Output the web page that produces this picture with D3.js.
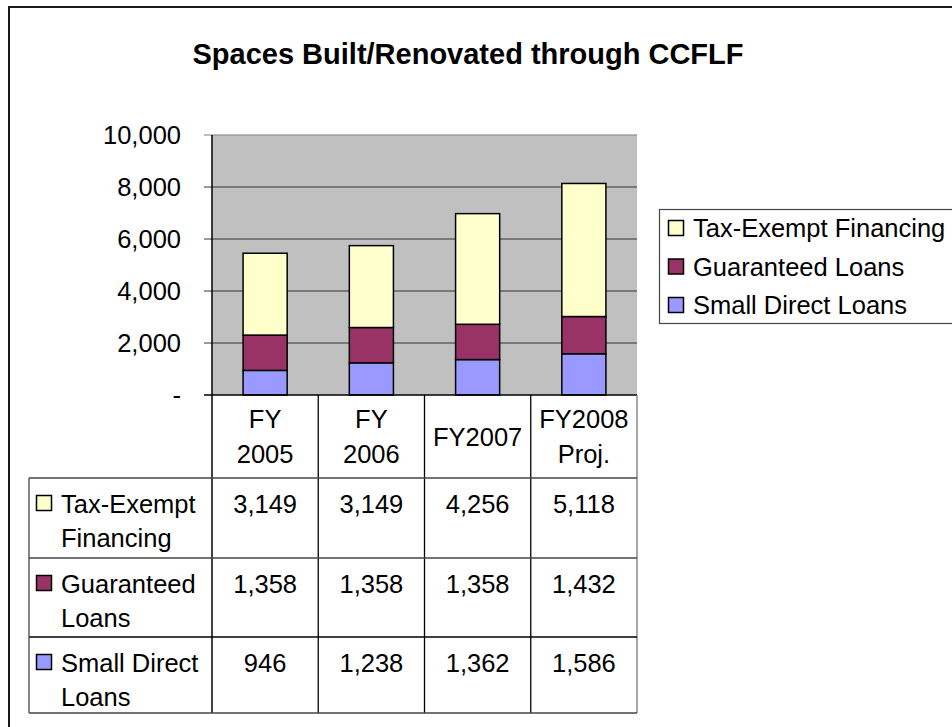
<!DOCTYPE html>
<html>
<head>
<meta charset="utf-8">
<script src="https://cdn.jsdelivr.net/npm/d3@7"></script>
<style>
  body { margin: 0; background: #fff; }
  text { font-family: Arial, "Liberation Sans", sans-serif; fill: #000; }
</style>
</head>
<body>
<div id="chart"></div>
<script>
// chart data
var categories = ["FY 2005", "FY 2006", "FY2007", "FY2008 Proj."]
var seriesNames = ["Small Direct Loans", "Guaranteed Loans", "Tax-Exempt Financing"]
var tableLabels = [["Tax-Exempt", "Financing"], ["Guaranteed", "Loans"], ["Small Direct", "Loans"]]
var smallDirect = [946, 1238, 1362, 1586]
var guaranteed = [1358, 1358, 1358, 1432]
var taxExempt = [3149, 3149, 4256, 5118]
var yTicks = [0, 2000, 4000, 6000, 8000, 10000]
var colors = ["#9999FF", "#993366", "#FFFFCC"]

var width = 952
var height = 727
var fs = 25.5

var svg = d3.select("#chart").append("svg")
  .attr("width", width)
  .attr("height", height)

// outer frame
svg.append("rect")
  .attr("x", 9).attr("y", 7)
  .attr("width", 1000).attr("height", 1000)
  .attr("fill", "none")
  .attr("stroke", "#1a1a1a")
  .attr("stroke-width", 2)

svg.append("text")
  .attr("x", 468).attr("y", 64)
  .attr("text-anchor", "middle")
  .style("font-weight", "bold")
  .style("font-size", "29px")
  .text("Spaces Built/Renovated through CCFLF")

var x = d3.scaleBand()
  .domain(categories)
  .range([212, 637])
  .padding(0)

var y = d3.scaleLinear()
  .domain([0, 10000])
  .range([395, 135])

// plot background
svg.append("rect")
  .attr("x", x.range()[0])
  .attr("y", y(10000))
  .attr("width", x.range()[1] - x.range()[0])
  .attr("height", y(0) - y(10000))
  .attr("fill", "#C0C0C0")

svg.append("g")
  .selectAll("line")
  .data(yTicks.filter(function (d) { return d > 0 }))
  .enter()
  .append("line")
  .attr("x1", 204).attr("x2", 637)
  .attr("y1", function (d) { return y(d) })
  .attr("y2", function (d) { return y(d) })
  .attr("stroke", function (d) { return d == 10000 ? "#808080" : "#333" })
  .attr("stroke-width", 1.2)

svg.append("g")
  .selectAll("text")
  .data(yTicks)
  .enter()
  .append("text")
  .attr("x", 181)
  .attr("y", function (d) { return y(d) })
  .attr("dy", "0.36em")
  .attr("text-anchor", "end")
  .style("font-size", fs + "px")
  .text(function (d) { return d == 0 ? "-" : d3.format(",")(d) })

// stacked bars
var rows = categories.map(function (c, i) {
  return { cat: c, s0: smallDirect[i], s1: guaranteed[i], s2: taxExempt[i] }
})
var stack = d3.stack().keys(["s0", "s1", "s2"])
var layers = stack(rows)
var barW = x.bandwidth() * 0.415

svg.append("g")
  .selectAll("g")
  .data(layers)
  .enter()
  .append("g")
  .attr("fill", function (d, i) { return colors[i] })
  .selectAll("rect")
  .data(function (d) { return d })
  .enter()
  .append("rect")
  .attr("x", function (d) { return x(d.data.cat) + (x.bandwidth() - barW) / 2 })
  .attr("y", function (d) { return y(d[1]) })
  .attr("width", barW)
  .attr("height", function (d) { return y(d[0]) - y(d[1]) })
  .attr("stroke", "#000")
  .attr("stroke-width", 1.5)

// data table
var headTop = 395, headBottom = 478
var rowTops = [478, 558, 637]
var tableBottom = 713
var tableLeft = 29

svg.append("line")
  .attr("x1", 204).attr("x2", 637)
  .attr("y1", headTop).attr("y2", headTop)
  .attr("stroke", "#000").attr("stroke-width", 1.5)

svg.append("line")
  .attr("x1", 212).attr("x2", 212)
  .attr("y1", y(10000)).attr("y2", tableBottom)
  .attr("stroke", "#000").attr("stroke-width", 1.5)

svg.append("g")
  .selectAll("line")
  .data(categories)
  .enter()
  .append("line")
  .attr("x1", function (d) { return x(d) + x.bandwidth() })
  .attr("x2", function (d) { return x(d) + x.bandwidth() })
  .attr("y1", headTop).attr("y2", tableBottom)
  .attr("stroke", function (d, i) { return i == 3 ? "#777" : "#000" })
  .attr("stroke-width", 1.3)

svg.append("g")
  .selectAll("line")
  .data(rowTops.concat([tableBottom]))
  .enter()
  .append("line")
  .attr("x1", tableLeft).attr("x2", 637)
  .attr("y1", function (d) { return d })
  .attr("y2", function (d) { return d })
  .attr("stroke", function (d, i) { return i == 2 ? "#000" : "#444" })
  .attr("stroke-width", 1.3)

svg.append("line")
  .attr("x1", tableLeft).attr("x2", tableLeft)
  .attr("y1", rowTops[0]).attr("y2", tableBottom)
  .attr("stroke", "#444").attr("stroke-width", 1.3)

// header labels
categories.forEach(function (c) {
  var parts = c.split(" ")
  var cx = x(c) + x.bandwidth() / 2
  var t = svg.append("text")
    .attr("text-anchor", "middle")
    .style("font-size", fs + "px")
  if (parts.length == 1) {
    t.append("tspan").attr("x", cx).attr("y", (headTop + headBottom) / 2 + 9).text(parts[0])
  } else {
    t.append("tspan").attr("x", cx).attr("y", headTop + 33).text(parts[0])
    t.append("tspan").attr("x", cx).attr("y", headTop + 68).text(parts[1])
  }
})

// table rows, top row is tax-exempt
var tableSeries = [taxExempt, guaranteed, smallDirect]
var tableColors = [colors[2], colors[1], colors[0]]
tableSeries.forEach(function (vals, r) {
  var top = rowTops[r]
  svg.append("rect")
    .attr("x", 36.5).attr("y", top + 17.5)
    .attr("width", 15).attr("height", 15)
    .attr("fill", tableColors[r])
    .attr("stroke", "#000").attr("stroke-width", 1.5)
  var t = svg.append("text").style("font-size", fs + "px")
  t.append("tspan").attr("x", 61).attr("y", top + 35).text(tableLabels[r][0])
  t.append("tspan").attr("x", 61).attr("y", top + 69).text(tableLabels[r][1])
  vals.forEach(function (v, i) {
    svg.append("text")
      .attr("x", x(categories[i]) + x.bandwidth() / 2)
      .attr("y", top + 35)
      .attr("text-anchor", "middle")
      .style("font-size", fs + "px")
      .text(d3.format(",")(v))
  })
})

// legend
var legend = svg.append("g")
legend.append("rect")
  .attr("x", 659.5).attr("y", 209.5)
  .attr("width", 320).attr("height", 114)
  .attr("fill", "#fff")
  .attr("stroke", "#444").attr("stroke-width", 1.2)

var legendOrder = [2, 1, 0]
legendOrder.forEach(function (s, i) {
  var cy = 228 + i * 38.5
  legend.append("rect")
    .attr("x", 668.5).attr("y", cy - 7.5)
    .attr("width", 15).attr("height", 15)
    .attr("fill", colors[s])
    .attr("stroke", "#000").attr("stroke-width", 1.5)
  legend.append("text")
    .attr("x", 693).attr("y", cy)
    .attr("dy", "0.36em")
    .style("font-size", fs + "px")
    .text(seriesNames[s])
})
</script>
</body>
</html>
